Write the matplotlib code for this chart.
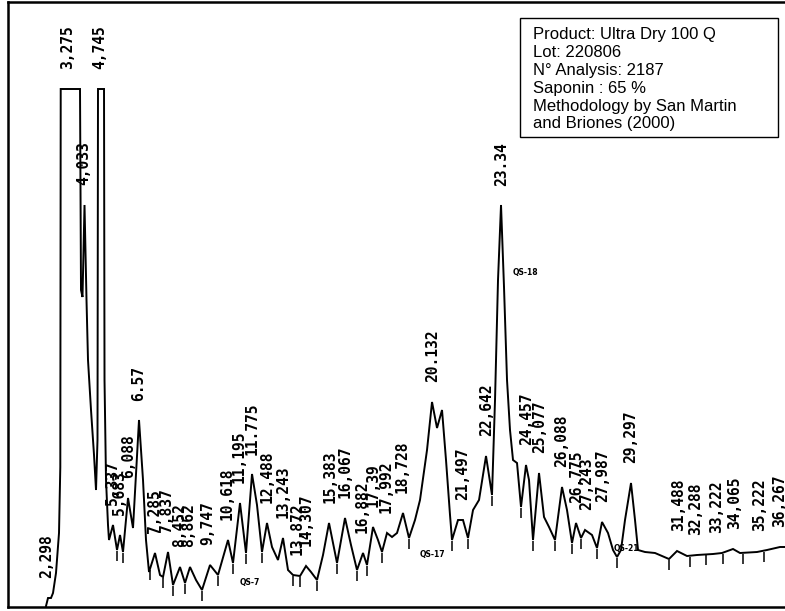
import matplotlib.pyplot as plt
import matplotlib.patches as patches
import numpy as np

# detector trace (retention time in min, signal)
rt = [2.273, 2.365, 2.503, 2.596, 2.734, 2.873, 2.933, 2.952, 3.843, 3.889,
      3.958, 4.051, 4.143, 4.212, 4.351, 4.490, 4.582, 4.651, 4.674, 4.952,
      4.975, 5.044, 5.136, 5.182, 5.367, 5.552, 5.691, 5.829, 6.060, 6.291,
      6.568, 6.753, 6.891, 7.030, 7.307, 7.538, 7.677, 7.908, 8.139, 8.462,
      8.693, 8.924, 9.201, 9.478, 9.848, 10.217, 10.679, 10.910, 11.233, 11.510,
      11.788, 12.018, 12.249, 12.480, 12.711, 12.988, 13.219, 13.450, 13.681, 14.005,
      14.282, 14.513, 14.790, 15.067, 15.344, 15.714, 16.083, 16.360, 16.637, 16.915,
      17.099, 17.376, 17.607, 17.792, 18.023, 18.254, 18.485, 18.762, 19.039, 19.316,
      19.547, 19.871, 20.102, 20.333, 20.564, 20.748, 20.933, 21.025, 21.303, 21.533,
      21.764, 21.996, 22.273, 22.596, 22.873, 23.012, 23.150, 23.289, 23.427, 23.566,
      23.704, 23.843, 24.028, 24.212, 24.443, 24.582, 24.767, 25.044, 25.275, 25.506,
      25.783, 26.106, 26.337, 26.568, 26.753, 26.984, 27.169, 27.492, 27.723, 27.954,
      28.231, 28.462, 28.647, 28.831, 29.016, 29.293, 29.478, 29.617, 29.940, 30.402,
      31.048, 31.418, 31.880, 32.342, 33.081, 33.497, 34.005, 34.328, 35.113, 35.575,
      36.176, 36.453]
signal = [0, 8, 8, 13, 33, 73, 139, 517, 517, 316,
          309, 401, 306, 246, 196, 151, 116, 166, 517, 517,
          226, 126, 81, 66, 81, 56, 71, 54, 108, 78,
          186, 126, 66, 34, 53, 31, 29, 54, 21, 39,
          23, 39, 26, 16, 41, 31, 66, 43, 103, 53,
          132, 101, 54, 83, 59, 46, 68, 36, 31, 30,
          40, 34, 26, 51, 83, 43, 88, 61, 36, 53,
          41, 79, 66, 54, 73, 69, 73, 93, 68, 86,
          106, 156, 204, 178, 196, 146, 91, 66, 86, 86,
          68, 96, 106, 150, 111, 206, 326, 401, 319, 226,
          176, 146, 143, 99, 141, 126, 66, 133, 89, 79,
          66, 119, 96, 63, 83, 68, 76, 71, 58, 84,
          73, 56, 49, 56, 86, 123, 86, 56, 54, 53,
          47, 55, 50, 51, 52, 53, 57, 53, 54, 56,
          59, 59]

peak_labels = ["2,298", "3,275", "4,033", "4,745", "5,337", "5,683", "6,088", "6.57",
               "7,285", "7,837", "8,452", "8,862", "9,747", "10,618", "11,195", "11.775",
               "12,488", "13,243", "13,872", "14,307", "15,383", "16,067", "16,882", "17,39",
               "17,992", "18,728", "20.132", "21,497", "22,642", "23.34", "24,457", "25,077",
               "26,088", "26,775", "27,243", "27,987", "29,297", "31,488", "32,288", "33,222",
               "34,065", "35,222", "36,267"]

# integration event marks
events = [5.552, 5.829, 7.077, 7.677, 8.139, 8.693, 9.478, 10.217, 10.910, 11.510,
          12.249, 13.681, 14.005, 14.790, 15.714, 16.637, 17.099, 17.792, 19.039, 21.025,
          21.764, 22.873, 24.212, 24.767, 25.783, 26.568, 26.984, 27.723, 28.647, 31.048,
          32.018, 32.757, 33.543, 34.467, 35.436]

qs_names = ["QS-7", "QS-17", "QS-18", "QS-21"]
qs_rt = [11.70, 20.10, 24.40, 29.06]
qs_level = [24, 51, 333, 58]

info = ("Product: Ultra Dry 100 Q\nLot: 220806\nN° Analysis: 2187\nSaponin : 65 %\n"
        "Methodology by San Martin\nand Briones (2000)")

fig = plt.figure(figsize=(7.85, 6.11), dpi=100)
ax = fig.add_axes([8/785, 4/611, 777/785, 605/611])
ax.set_xlim(0.517, 36.406)
ax.set_ylim(-1, 604)
ax.set_xticks([])
ax.set_yticks([])
for s in ["left", "top", "bottom"]:
    ax.spines[s].set_linewidth(1.8)
ax.spines["right"].set_visible(False)

ax.plot(rt, signal, color="black", lw=1.4, solid_joinstyle="miter")

# event ticks under the valleys
ev_lvl = np.interp(events, rt, signal)
ax.vlines(events, ev_lvl - 11, ev_lvl - 1, color="black", lw=1.1)

# retention time labels above the peaks
grid = np.linspace(rt[0], rt[-1], 4000)
sig_grid = np.interp(grid, rt, signal)
for lab in peak_labels:
    t = float(lab.replace(",", "."))
    near = sig_grid[np.abs(grid - t) < 0.12]
    top = near.max() if len(near) else np.interp(t, rt, signal)
    ax.text(min(t, 36.15), top + 20, lab, rotation=90, ha="center", va="bottom",
            family="DejaVu Sans Mono", fontsize=10.5, fontweight="bold")

for name, t, lv in zip(qs_names, qs_rt, qs_level):
    ax.text(t, lv, name, ha="center", va="center", fontsize=5.5, fontweight="bold")

box = patches.Rectangle((520/785, 1 - 137/611), 258/785, 119/611, transform=fig.transFigure,
                        facecolor="white", edgecolor="black", lw=1.0)
fig.patches.append(box)
fig.text(533/785, 1 - 27/611, info, ha="left", va="top", family="Liberation Sans",
         fontsize=12, linespacing=1.24)

fig.savefig("out.png", dpi=100)
